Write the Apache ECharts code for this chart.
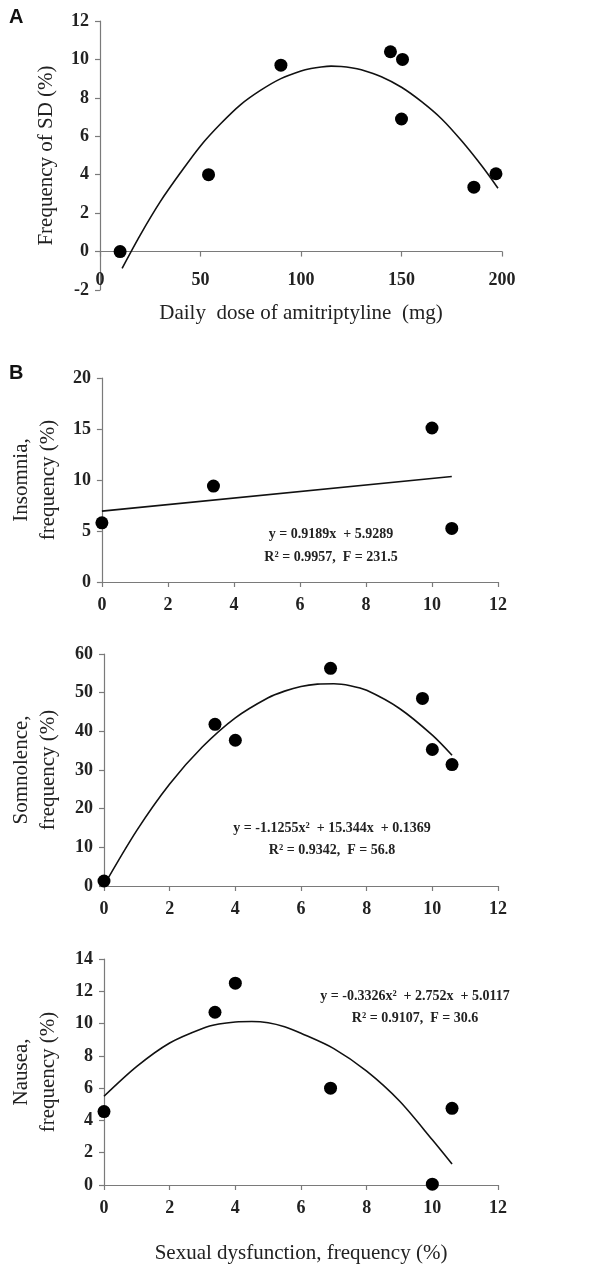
<!DOCTYPE html>
<html>
<head>
<meta charset="utf-8">
<script src="https://cdn.jsdelivr.net/npm/echarts@6/dist/echarts.min.js"></script>
<style>html,body{margin:0;padding:0;background:#fff}#c{width:600px;height:1271px}</style>
</head>
<body>
<div id="c"></div>
<script>
// Panel A: daily dose of amitriptyline vs frequency of SD
var doseX = [10, 54, 90, 144.5, 150.5, 150, 186, 197];
var sdY   = [0, 4.0, 9.7, 10.4, 10.0, 6.9, 3.35, 4.05];
var doseCurveX = [11, 20, 30, 40, 50, 60, 70, 80, 90, 100, 105, 110, 115, 120, 125, 130, 140, 150, 160, 170, 180, 190, 198];
var doseCurveY = [-0.87, 0.86, 2.6, 4.1, 5.5, 6.65, 7.65, 8.4, 9.0, 9.4, 9.53, 9.61, 9.65, 9.63, 9.57, 9.46, 9.1, 8.55, 7.8, 6.9, 5.75, 4.45, 3.3];

// Panel B: SD frequency vs other adverse effects
var insomniaX = [0, 3.38, 10.0, 10.6];
var insomniaY = [5.8, 9.4, 15.1, 5.25];
var insomniaLineX = [0, 10.6];
var insomniaLineY = [6.95, 10.35];

var somnoX = [0, 3.38, 4.0, 6.9, 9.7, 10.0, 10.6];
var somnoY = [1.3, 41.8, 37.7, 56.3, 48.5, 35.3, 31.4];
var somnoCurveX = [0, 1, 2, 3, 4, 5, 5.5, 6, 6.5, 7, 7.5, 8, 9, 10, 10.6];
var somnoCurveY = [0.2, 14.4, 26.4, 36.0, 43.5, 48.7, 50.4, 51.6, 52.2, 52.3, 51.8, 50.6, 45.9, 39.0, 33.8];

var nauseaX = [0, 3.38, 4.0, 6.9, 10.0, 10.6];
var nauseaY = [4.55, 10.7, 12.5, 6.0, 0.05, 4.75];
var nauseaCurveX = [0, 1, 2, 3, 3.5, 4, 4.5, 5, 5.5, 6, 7, 8, 9, 10, 10.6];
var nauseaCurveY = [5.5, 7.35, 8.8, 9.7, 9.97, 10.1, 10.13, 10.05, 9.8, 9.4, 8.45, 7.05, 5.2, 2.8, 1.3];

var doseTicks = {min: 0, max: 200, interval: 50};
var sdTicks = {min: -2, max: 12, interval: 2};
var sdfTicks = {min: 0, max: 12, interval: 2};
var insomniaTicks = {min: 0, max: 20, interval: 5};
var somnoTicks = {min: 0, max: 60, interval: 10};
var nauseaTicks = {min: 0, max: 14, interval: 2};

var eqInsomnia = ['y = 0.9189x  + 5.9289', 'R² = 0.9957,  F = 231.5'];
var eqSomno = ['y = -1.1255x²  + 15.344x  + 0.1369', 'R² = 0.9342,  F = 56.8'];
var eqNausea = ['y = -0.3326x²  + 2.752x  + 5.0117', 'R² = 0.9107,  F = 30.6'];

function zip(a, b) { return a.map(function (v, i) { return [v, b[i]]; }); }

var SERIF = '"Liberation Serif","DejaVu Serif",serif';
var axisLineStyle = {color: '#7a7a7a', width: 1.2};

function xAx(idx, t, name, gap, margin) {
  return {
    type: 'value', gridIndex: idx, min: t.min, max: t.max, interval: t.interval,
    splitLine: {show: false},
    axisLine: {show: true, onZero: true, lineStyle: axisLineStyle},
    axisTick: {show: true, length: 5, lineStyle: axisLineStyle},
    axisLabel: {fontFamily: SERIF, fontSize: 18, fontWeight: 'bold', color: '#222', margin: margin == null ? 14 : margin},
    name: name || '', nameLocation: 'middle', nameGap: gap || 0,
    nameTextStyle: {fontFamily: SERIF, fontSize: 21, color: '#222'}
  };
}
function yAx(idx, t, name, gap) {
  return {
    type: 'value', gridIndex: idx, min: t.min, max: t.max, interval: t.interval,
    splitLine: {show: false},
    axisLine: {show: true, lineStyle: axisLineStyle},
    axisTick: {show: true, length: 5, lineStyle: axisLineStyle},
    axisLabel: {fontFamily: SERIF, fontSize: 18, fontWeight: 'bold', color: '#222', margin: 11},
    name: name, nameLocation: 'middle', nameGap: gap, nameRotate: 90,
    nameTextStyle: {fontFamily: SERIF, fontSize: 21, color: '#222', lineHeight: 27}
  };
}
function scatter(idx, xs, ys) {
  return {type: 'scatter', xAxisIndex: idx, yAxisIndex: idx, data: zip(xs, ys),
    symbol: 'circle', symbolSize: 13, itemStyle: {color: '#000', opacity: 1}, z: 3};
}
function curve(idx, xs, ys) {
  return {type: 'line', xAxisIndex: idx, yAxisIndex: idx, data: zip(xs, ys), smooth: 0.3,
    showSymbol: false, lineStyle: {color: '#111', width: 1.6}, z: 2};
}
function eqText(cx, y1, y2, lines) {
  return [
    {type: 'text', x: cx, y: y1, style: {text: lines[0], fontFamily: SERIF, fontSize: 14, fontWeight: 'bold', fill: '#222', align: 'center', verticalAlign: 'middle'}},
    {type: 'text', x: cx, y: y2, style: {text: lines[1], fontFamily: SERIF, fontSize: 14, fontWeight: 'bold', fill: '#222', align: 'center', verticalAlign: 'middle'}}
  ];
}

var chart = echarts.init(document.getElementById('c'), null, {renderer: 'canvas'});
var graphics = [
  {type: 'text', x: 9, y: 7, style: {text: 'A', fontFamily: 'Arial, "Liberation Sans", sans-serif', fontSize: 20, fontWeight: 'bold', fill: '#111'}},
  {type: 'text', x: 9, y: 363, style: {text: 'B', fontFamily: 'Arial, "Liberation Sans", sans-serif', fontSize: 20, fontWeight: 'bold', fill: '#111'}}
].concat(eqText(331, 534, 557, eqInsomnia))
 .concat(eqText(332, 828, 850, eqSomno))
 .concat(eqText(415, 996, 1018, eqNausea));

chart.setOption({
  animation: false,
  backgroundColor: '#fff',
  grid: [
    {left: 100, top: 21, width: 402, height: 269},
    {left: 101, top: 378, width: 397, height: 204},
    {left: 104, top: 654, width: 394, height: 232},
    {left: 104, top: 959, width: 394, height: 226}
  ],
  xAxis: [
    xAx(0, doseTicks, 'Daily  dose of amitriptyline  (mg)', 13, -19),
    xAx(1, sdfTicks),
    xAx(2, sdfTicks),
    xAx(3, sdfTicks, 'Sexual dysfunction, frequency (%)', 58)
  ],
  yAxis: [
    yAx(0, sdTicks, 'Frequency of SD (%)', 39),
    yAx(1, insomniaTicks, 'Insomnia,\nfrequency (%)', 38),
    yAx(2, somnoTicks, 'Somnolence,\nfrequency (%)', 42),
    yAx(3, nauseaTicks, 'Nausea,\nfrequency (%)', 42)
  ],
  series: [
    curve(0, doseCurveX, doseCurveY), scatter(0, doseX, sdY),
    curve(1, insomniaLineX, insomniaLineY), scatter(1, insomniaX, insomniaY),
    curve(2, somnoCurveX, somnoCurveY), scatter(2, somnoX, somnoY),
    curve(3, nauseaCurveX, nauseaCurveY), scatter(3, nauseaX, nauseaY)
  ],
  graphic: graphics
});
</script>
</body>
</html>
